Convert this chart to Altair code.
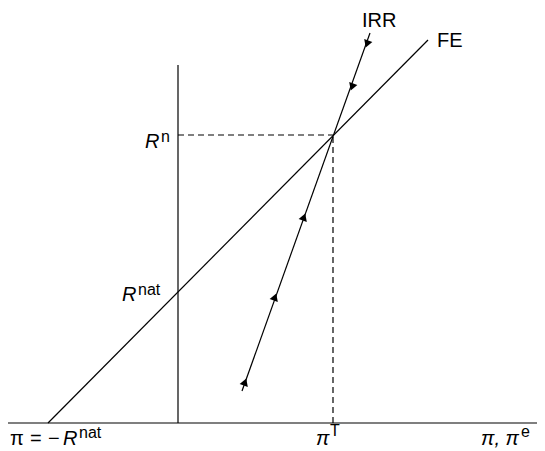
import altair as alt
import pandas as pd

# Schematic values (model units: x = inflation, y = real interest rate)
R_NAT = 13.0
R_N = 28.8
PI_T = 15.5
PI_MIN = -13.0

fe_x = [PI_MIN, 25.0]
fe_y = [0.0, 38.3]
irr_x = [6.4, 19.2]
irr_y = [3.2, 39.0]
haxis_x = [-17.3, 36.0]
vaxis_y = [0.0, 35.8]

up_x = [6.7, 9.7, 12.6]
up_y = [4.1, 12.6, 20.6]
down_x = [17.4, 18.9]
down_y = [33.6, 37.9]

solid = pd.DataFrame({
    "x": [haxis_x[0], 0.0, fe_x[0], irr_x[0]],
    "x2": [haxis_x[1], 0.0, fe_x[1], irr_x[1]],
    "y": [0.0, vaxis_y[0], fe_y[0], irr_y[0]],
    "y2": [0.0, vaxis_y[1], fe_y[1], irr_y[1]],
})
dashed = pd.DataFrame({
    "x": [0.0, PI_T],
    "x2": [PI_T, PI_T],
    "y": [R_N, 0.0],
    "y2": [R_N, R_N],
})
ups = pd.DataFrame({"x": up_x, "y": up_y})
downs = pd.DataFrame({"x": down_x, "y": down_y})

# Text labels
main_up = pd.DataFrame({
    "x": [18.4, 25.9, -16.8, -14.8, -13.0],
    "y": [39.6, 37.6, -2.2, -2.2, -2.2],
    "t": ["IRR", "FE", "π", "=", "−"],
})
main_it = pd.DataFrame({
    "x": [-3.3, -5.6, -11.5, 13.8, 30.3],
    "y": [27.5, 12.2, -2.2, -2.2, -2.2],
    "t": ["R", "R", "R", "π", "π, π"],
})
sup = pd.DataFrame({
    "x": [-1.7, -4.0, -9.9, 15.2, 34.3],
    "y": [28.1, 12.8, -1.5, -1.3, -1.4],
    "t": ["n", "nat", "nat", "T", "e"],
})

xs = alt.Scale(domain=[-17.0, 35.9], nice=False, zero=False)
ys = alt.Scale(domain=[-2.8, 41.5], nice=False, zero=False)
X = lambda f="x": alt.X(f"{f}:Q", scale=xs, axis=None)
Y = lambda f="y": alt.Y(f"{f}:Q", scale=ys, axis=None)

font = "Liberation Sans"

l_solid = alt.Chart(solid).mark_rule(color="black", strokeWidth=1.2).encode(
    x=X(), x2="x2:Q", y=Y(), y2="y2:Q")
l_dash = alt.Chart(dashed).mark_rule(color="black", strokeWidth=1.2, strokeDash=[6, 4]).encode(
    x=X(), x2="x2:Q", y=Y(), y2="y2:Q")
l_up = alt.Chart(ups).mark_point(shape="triangle-up", filled=True, color="black",
                                 size=75, angle=20, opacity=1).encode(x=X(), y=Y())
l_down = alt.Chart(downs).mark_point(shape="triangle-down", filled=True, color="black",
                                     size=75, angle=20, opacity=1).encode(x=X(), y=Y())
t_up = alt.Chart(main_up).mark_text(font=font, fontSize=20, align="left",
                                    baseline="alphabetic", color="black").encode(
    x=X(), y=Y(), text="t:N")
t_it = alt.Chart(main_it).mark_text(font=font, fontSize=20, fontStyle="italic", align="left",
                                    baseline="alphabetic", color="black").encode(
    x=X(), y=Y(), text="t:N")
t_sup = alt.Chart(sup).mark_text(font=font, fontSize=16, align="left",
                                 baseline="alphabetic", color="black").encode(
    x=X(), y=Y(), text="t:N")

chart = alt.layer(l_solid, l_dash, l_up, l_down, t_up, t_it, t_sup).properties(
    width=529, height=443, padding=0, autosize=alt.AutoSizeParams(type="none")
).configure_view(stroke=None)

chart.save("out.html", embed_options={"renderer": "svg", "actions": False})
